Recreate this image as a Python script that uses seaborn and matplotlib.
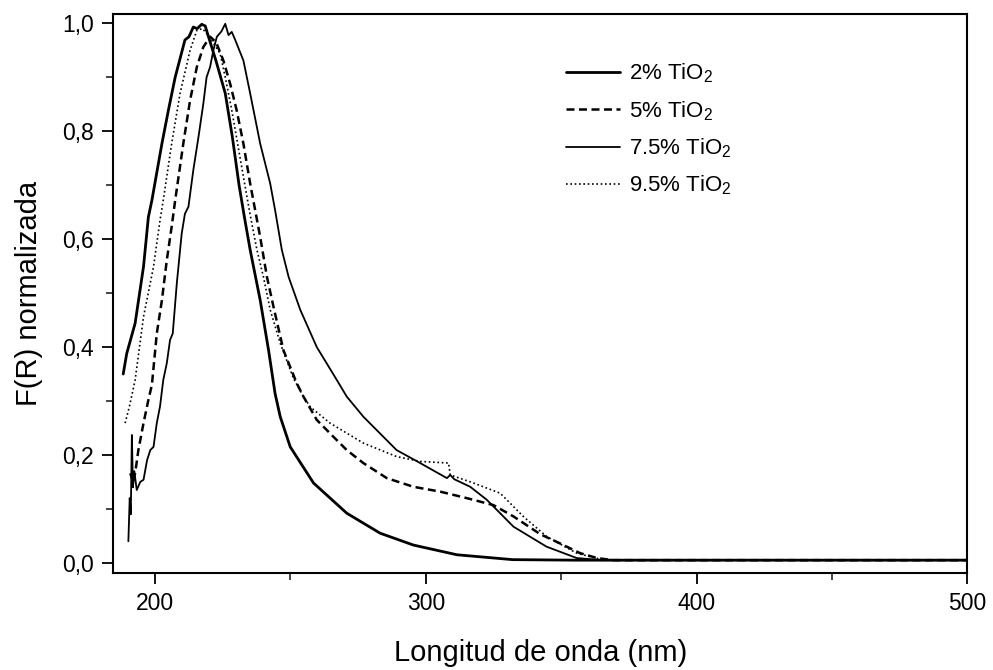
import numpy as np
import matplotlib
matplotlib.use("Agg")
import matplotlib.pyplot as plt
import seaborn as sns
from matplotlib.ticker import MultipleLocator, FuncFormatter

# --- data (wavelength in nm, normalised F(R)) ---
x_2 = [188.2, 189.5, 192.6, 195.7, 197.5, 198.8, 202.5, 204.9, 207.4, 211.0,
       212.5, 214.1, 215.5, 217.2, 218.5, 219.7, 222.5, 225.9, 228.5, 231.0,
       233.0, 235.1, 238.8, 241.9, 244.3, 246.2, 249.9, 258.5, 270.8, 283.1,
       295.4, 311.5, 332.0, 355.0, 380.0, 500.0]
y_2 = [0.35, 0.388, 0.444, 0.549, 0.641, 0.672, 0.777, 0.839, 0.90, 0.969,
       0.975, 0.993, 0.990, 0.998, 0.995, 0.975, 0.93, 0.87, 0.79, 0.70,
       0.64, 0.58, 0.487, 0.394, 0.314, 0.271, 0.215, 0.148, 0.092, 0.055,
       0.033, 0.015, 0.006, 0.005, 0.005, 0.005]

x_5 = [190.8, 192.0, 193.0, 193.8, 195.7, 197.5, 198.8, 200.6, 202.5, 204.3,
       206.1, 207.4, 210.4, 212.9, 215.4, 217.8, 220.3, 222.5, 225.2, 227.7,
       230.1, 232.6, 235.1, 238.8, 241.3, 243.7, 247.4, 252.3, 254.8, 259.7,
       264.6, 270.8, 276.9, 285.6, 295.4, 305.3, 315.1, 325.0, 332.4, 342.3,
       349.6, 357.0, 363.2, 369.0, 380.0, 500.0]
y_5 = [0.166, 0.148, 0.18, 0.209, 0.259, 0.302, 0.33, 0.425, 0.487, 0.561,
       0.623, 0.672, 0.777, 0.857, 0.919, 0.956, 0.975, 0.965, 0.931, 0.888,
       0.839, 0.777, 0.703, 0.604, 0.53, 0.475, 0.394, 0.333, 0.308, 0.265,
       0.24, 0.209, 0.185, 0.157, 0.141, 0.132, 0.12, 0.107, 0.086, 0.053,
       0.036, 0.018, 0.009, 0.005, 0.005, 0.005]

x_75 = [190.1, 190.6, 191.0, 191.4, 191.8, 192.3, 193.2, 194.5, 195.7, 197.0,
        198.2, 199.4, 200.6, 201.8, 203.0, 204.3, 205.5, 206.5, 208.0, 209.8,
        211.0, 212.3, 214.1, 216.0, 217.8, 219.0, 220.3, 221.5, 222.8, 224.5,
        225.9, 227.1, 228.3, 229.5, 232.6, 235.1, 238.8, 242.5, 244.3, 246.8,
        249.3, 253.6, 259.7, 267.1, 270.8, 276.9, 289.2, 297.9, 307.8, 309.0,
        310.5, 316.4, 322.5, 332.4, 344.6, 355.7, 365.0, 380.0, 500.0]
y_75 = [0.04, 0.12, 0.09, 0.237, 0.14, 0.17, 0.135, 0.15, 0.154, 0.19,
        0.209, 0.215, 0.259, 0.29, 0.339, 0.37, 0.413, 0.425, 0.518, 0.61,
        0.647, 0.66, 0.728, 0.789, 0.851, 0.90, 0.919, 0.95, 0.975, 0.985,
        0.999, 0.978, 0.984, 0.97, 0.931, 0.87, 0.777, 0.703, 0.654, 0.58,
        0.53, 0.469, 0.40, 0.339, 0.308, 0.271, 0.209, 0.185, 0.157, 0.163,
        0.155, 0.141, 0.117, 0.067, 0.030, 0.009, 0.005, 0.005, 0.005]

x_95 = [188.9, 190.5, 192.6, 195.7, 199.4, 201.8, 203.0, 206.1, 209.2, 212.9,
        215.4, 217.5, 220.0, 224.0, 225.9, 228.3, 231.4, 233.5, 235.1, 237.6,
        240.0, 242.5, 246.2, 251.1, 254.8, 257.3, 264.6, 276.9, 289.2, 297.9,
        308.4, 309.0, 317.6, 327.5, 336.0, 344.6, 355.7, 365.0, 380.0, 500.0]
y_95 = [0.259, 0.29, 0.339, 0.456, 0.549, 0.635, 0.672, 0.777, 0.87, 0.95,
        0.987, 0.99, 0.975, 0.944, 0.90, 0.839, 0.75, 0.69, 0.645, 0.58,
        0.53, 0.469, 0.407, 0.342, 0.308, 0.289, 0.259, 0.222, 0.197, 0.188,
        0.185, 0.163, 0.148, 0.129, 0.086, 0.049, 0.018, 0.006, 0.005, 0.005]

labels = ["2% TiO$_2$", "5% TiO$_2$", "7.5% TiO$_2$", "9.5% TiO$_2$"]

sns.set_style("ticks")
plt.rcParams["font.family"] = ["Liberation Sans", "DejaVu Sans"]
plt.rcParams["mathtext.fontset"] = "custom"
plt.rcParams["mathtext.rm"] = "Liberation Sans"
plt.rcParams["mathtext.it"] = "Liberation Sans:italic"
plt.rcParams["text.color"] = "black"
plt.rcParams["axes.labelcolor"] = "black"

fig = plt.figure(figsize=(9.93, 6.70), dpi=100)
ax = fig.add_axes([0.114, 0.145, 0.860, 0.834])

sns.lineplot(x=x_2, y=y_2, ax=ax, color="black", lw=2.0, estimator=None,
             label=labels[0])
sns.lineplot(x=x_5, y=y_5, ax=ax, color="black", lw=1.8, estimator=None,
             label=labels[1])
sns.lineplot(x=x_75, y=y_75, ax=ax, color="black", lw=1.3, estimator=None,
             label=labels[2])
sns.lineplot(x=x_95, y=y_95, ax=ax, color="black", lw=1.2, estimator=None,
             label=labels[3])

# line styles
ax.lines[1].set_dashes((3.2, 1.8))
ax.lines[3].set_dashes((1.0, 1.6))

ax.set_xlim(184.5, 500)
ax.set_ylim(-0.0185, 1.017)
ax.xaxis.set_major_locator(MultipleLocator(100))
ax.xaxis.set_minor_locator(MultipleLocator(50))
ax.yaxis.set_major_locator(MultipleLocator(0.2))
ax.yaxis.set_minor_locator(MultipleLocator(0.1))
ax.yaxis.set_major_formatter(FuncFormatter(lambda v, p: f"{v:.1f}".replace(".", ",")))

ax.tick_params(which="major", direction="out", length=8, width=1.3,
               labelsize=16.5, pad=6, colors="black")
ax.tick_params(which="minor", direction="out", length=5, width=1.2)
for s in ax.spines.values():
    s.set_linewidth(1.5)
    s.set_color("black")

ax.set_xlabel("Longitud de onda (nm)", fontsize=21, labelpad=17)
ax.set_ylabel("F(R) normalizada", fontsize=21, labelpad=14)

handles, labs = ax.get_legend_handles_labels()
ax.legend(handles, labs, loc="upper left", bbox_to_anchor=(0.530, 0.915),
          frameon=False, fontsize=16, handlelength=2.45, handletextpad=0.4,
          labelspacing=0.62, borderpad=0, borderaxespad=0)

fig.savefig("out.png", dpi=100)
